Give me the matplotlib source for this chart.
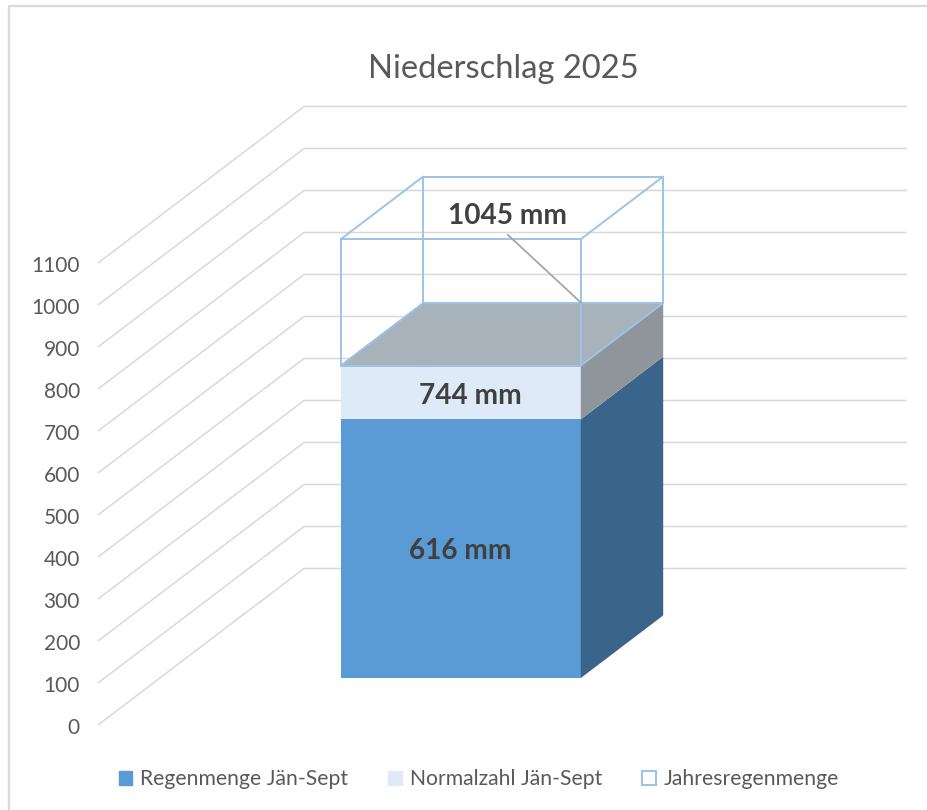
import matplotlib
matplotlib.use('Agg')
import matplotlib.pyplot as plt
from matplotlib.lines import Line2D
from matplotlib.patches import Patch, Polygon
from matplotlib.transforms import ScaledTranslation

plt.rcParams['font.family'] = ['Lato', 'DejaVu Sans']

title = 'Niederschlag 2025'
series_names = ['Regenmenge Jän-Sept', 'Normalzahl Jän-Sept', 'Jahresregenmenge']
series_values = [616, 744, 1045]
value_labels = ['616 mm', '744 mm', '1045 mm']
ticks = [0, 100, 200, 300, 400, 500, 600, 700, 800, 900, 1000, 1100]

W, H = 928, 810
PX_PER_UNIT = 0.42
ZERO_Y = 725
LEFT = 98
WALL_DX, WALL_DY = 206, 156.5 / PX_PER_UNIT
WALL_END = 808
BAR_X, BAR_W = 181, 240
D0, D1 = 0.3, 0.7

blue = '#5B9BD5'
blue_side = '#3A6489'
light = '#DEEAF8'
gray_side = '#8E959B'
gray_top = '#A8B2BA'
wire = '#9DC3E6'
grid = '#D9D9D9'


def pt(x, v, d):
    # oblique projection: depth moves right and up
    return (x + d * WALL_DX, v + d * WALL_DY)


def box_face(ax, corners, color, z, edge='none', lw=0):
    ax.add_patch(Polygon(corners, closed=True, facecolor=color, edgecolor=edge, linewidth=lw, zorder=z))


def edge(ax, a, b, z=6):
    ax.plot([a[0], b[0]], [a[1], b[1]], color=wire, lw=1.4, zorder=z, solid_capstyle='round')


def y_of(px):
    return (ZERO_Y - px) / PX_PER_UNIT


fig = plt.figure(figsize=(W / 100, H / 100), dpi=100, facecolor='white')
ax = fig.add_axes([LEFT / W, 0, 1 - LEFT / W, 1])
ax.set_xlim(0, W - LEFT)
ax.set_ylim((ZERO_Y - H) / PX_PER_UNIT, ZERO_Y / PX_PER_UNIT)
ax.patch.set_alpha(0)
for s in ax.spines.values():
    s.set_visible(False)
ax.set_xticks([])
ax.set_yticks(ticks)
ax.set_yticklabels([str(t) for t in ticks], fontsize=15, color='#595959')
ax.tick_params(axis='y', length=0, pad=13)
# labels sit a bit lower than the line starts
shift = ScaledTranslation(0, -1.2 / 100, fig.dpi_scale_trans)
for lab in ax.get_yticklabels():
    lab.set_transform(lab.get_transform() + shift)

# grid on side wall and back wall
for t in ticks:
    a = pt(0, t, 0)
    b = pt(0, t, 1)
    ax.plot([a[0], b[0], WALL_END], [a[1], b[1], b[1]], color=grid, lw=1.1, zorder=1)

x0, x1 = BAR_X, BAR_X + BAR_W
v1, v2, v3 = series_values

# stacked faces, drawn from the values
box_face(ax, [pt(x0, 0, D0), pt(x1, 0, D0), pt(x1, v1, D0), pt(x0, v1, D0)], blue, 3)
box_face(ax, [pt(x1, 0, D0), pt(x1, 0, D1), pt(x1, v1, D1), pt(x1, v1, D0)], blue_side, 3)
box_face(ax, [pt(x0, v1, D0), pt(x1, v1, D0), pt(x1, v2, D0), pt(x0, v2, D0)], light, 3)
box_face(ax, [pt(x1, v1, D0), pt(x1, v1, D1), pt(x1, v2, D1), pt(x1, v2, D0)], gray_side, 3)
box_face(ax, [pt(x0, v2, D0), pt(x1, v2, D0), pt(x1, v2, D1), pt(x0, v2, D1)], gray_top, 3)

# wire box of the yearly total
top = [pt(x0, v3, D0), pt(x1, v3, D0), pt(x1, v3, D1), pt(x0, v3, D1)]
low = [pt(x0, v2, D0), pt(x1, v2, D0), pt(x1, v2, D1), pt(x0, v2, D1)]
for i in range(4):
    edge(ax, top[i], top[(i + 1) % 4])
    edge(ax, low[i], low[(i + 1) % 4], z=4)
    edge(ax, top[i], low[i], z=6 if i < 2 else 4)

# leader line of the 1045 label
ax.plot([410, x1 + D0 * WALL_DX], [y_of(235), y_of(302.5)], color='#A6A6A6', lw=1.3, zorder=7)

label_style = dict(ha='center', va='center', fontsize=20.2, fontweight='bold', color='#404040', zorder=8)
ax.text(460.5 - LEFT, y_of(551), value_labels[0], **label_style)
ax.text(470 - LEFT, y_of(396.5), value_labels[1], **label_style)
ax.text(508 - LEFT, y_of(216.5), value_labels[2], **label_style)

fig.text(503 / W, 1 - 69 / H, title, ha='center', va='center', fontsize=23.6, color='#595959')

# chart frame, open at right and bottom
fig.add_artist(Line2D([9.5 / W, 9.5 / W, 1], [0, 1 - 6 / H, 1 - 6 / H], color=grid, lw=1.6))

handles = [Patch(facecolor=blue, edgecolor=blue),
           Patch(facecolor=light, edgecolor=light),
           Patch(facecolor='white', edgecolor=wire, linewidth=1.5)]
fig.legend(handles, series_names, loc='center', bbox_to_anchor=(479 / W, 1 - 779 / H), ncol=3, frameon=False,
           fontsize=15.2, labelcolor='#595959', handlelength=0.64, handleheight=0.64,
           handletextpad=0.38, columnspacing=1.9)

fig.savefig('out.png', dpi=100)
